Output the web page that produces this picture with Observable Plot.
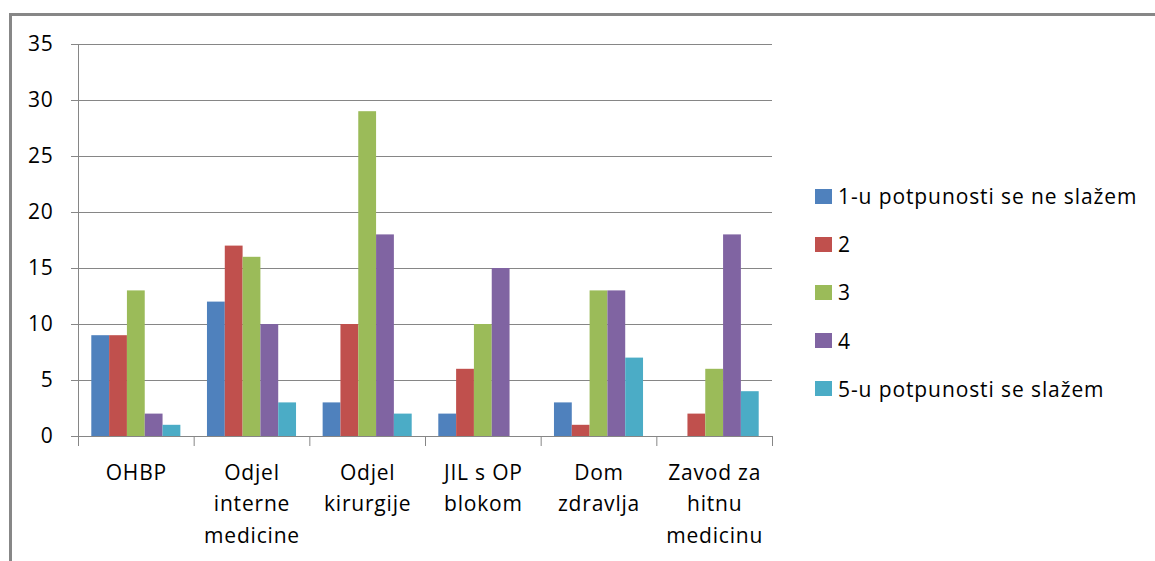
<!DOCTYPE html>
<html>
<head>
<meta charset="utf-8">
<script src="https://cdn.jsdelivr.net/npm/d3@7"></script>
<script src="https://cdn.jsdelivr.net/npm/@observablehq/plot@0.6"></script>
<style>
  html, body { margin: 0; padding: 0; background: #fff; overflow: hidden; }
  #wrap { position: relative; width: 1155px; height: 561px; font-family: "Open Sans", sans-serif; }
  #frame { position: absolute; left: 9px; top: 13px; width: 1200px; height: 600px;
           border-top: 3px solid #878787; border-left: 3px solid #878787; box-sizing: border-box; }
  #chart { position: absolute; left: 0; top: 0; }
  #chart svg text { letter-spacing: 0.8px; }
  #legend { position: absolute; left: 815px; top: 182px; }
  .item { position: absolute; left: 0; height: 28px; display: flex; align-items: center;
          white-space: nowrap; font-size: 21px; color: #000; letter-spacing: 0.9px; }
  .sw { width: 17px; height: 15px; margin-right: 6px; flex: none; }
</style>
</head>
<body>
<div id="wrap">
  <div id="frame"></div>
  <div id="chart"></div>
  <div id="legend"></div>
</div>
<script>
const categories = ["OHBP", "Odjel interne medicine", "Odjel kirurgije", "JIL s OP blokom", "Dom zdravlja", "Zavod za hitnu medicinu"];
const categoryLabels = ["OHBP", "Odjel\ninterne\nmedicine", "Odjel\nkirurgije", "JIL s OP\nblokom", "Dom\nzdravlja", "Zavod za\nhitnu\nmedicinu"];
const series = ["1-u potpunosti se ne slažem", "2", "3", "4", "5-u potpunosti se slažem"];
const colors = ["#4F81BD", "#C0504D", "#9BBB59", "#8064A2", "#4BACC6"];
const s1 = [9, 12, 3, 2, 3, 0];
const s2 = [9, 17, 10, 6, 1, 2];
const s3 = [13, 16, 29, 10, 13, 6];
const s4 = [2, 10, 18, 15, 13, 18];
const s5 = [1, 3, 2, 0, 7, 4];
const yTicks = [0, 5, 10, 15, 20, 25, 30, 35];

const values = [s1, s2, s3, s4, s5];
const groupPad = 0.115;
const barW = (1 - 2 * groupPad) / series.length;
const table = [];
categories.forEach((c, i) => {
  series.forEach((s, j) => {
    const x1 = i + groupPad + j * barW;
    table.push({category: c, series: s, value: values[j][i], x1, x2: x1 + barW});
  });
});

const plot = Plot.plot({
  width: 1155,
  height: 561,
  marginLeft: 78,
  marginRight: 383,
  marginTop: 44,
  marginBottom: 125,
  style: {fontFamily: "'Open Sans', sans-serif", fontSize: "21px", color: "#000", background: "transparent"},
  x: {type: "linear", domain: [0, categories.length], axis: null},
  y: {domain: [0, 35], axis: null},
  color: {domain: series, range: colors},
  marks: [
    Plot.gridY(yTicks, {stroke: "#868686", strokeOpacity: 1, strokeWidth: 1}),
    Plot.axisY(yTicks, {tickSize: 7, tickPadding: 18, stroke: "#868686", fontSize: 21, label: null, color: "#000"}),
    Plot.rectY(table, {x1: "x1", x2: "x2", y: "value", fill: "series"}),
    Plot.ruleX([0], {stroke: "#868686"}),
    Plot.axisX(d3.range(0, categories.length + 1), {tickSize: 10, stroke: "#868686", tickFormat: () => "", label: null}),
    Plot.axisX(d3.range(0, categories.length).map(i => i + 0.5), {
      tickSize: 0, tickPadding: 21, lineHeight: 1.5, fontSize: 21, label: null,
      tickFormat: d => categoryLabels[Math.floor(d)], fill: "#000"
    })
  ]
});
document.getElementById("chart").appendChild(plot);

const legend = document.getElementById("legend");
series.forEach((s, j) => {
  const div = document.createElement("div");
  div.className = "item";
  div.style.top = (j * 48.2) + "px";
  const sw = document.createElement("span");
  sw.className = "sw";
  sw.style.background = colors[j];
  const t = document.createElement("span");
  t.textContent = s;
  div.appendChild(sw);
  div.appendChild(t);
  legend.appendChild(div);
});
</script>
</body>
</html>
